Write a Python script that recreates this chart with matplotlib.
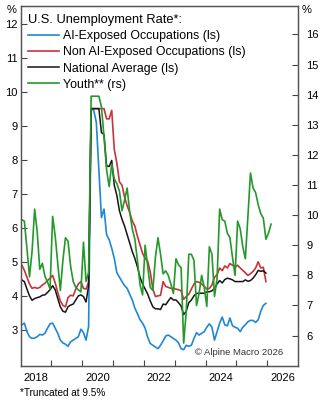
import matplotlib
matplotlib.use("Agg")
import matplotlib.pyplot as plt
import numpy as np

plt.rcParams['font.family'] = ['Liberation Sans', 'DejaVu Sans']

# monthly data, Jan 2018 onwards
start_year = 2018

ai_exposed = [
    3.15, 3.2, 2.95, 2.8, 2.75, 2.76, 2.8, 2.87, 2.85, 2.9, 3.05, 3.18,
    3.2, 3.05, 2.9, 2.7, 2.62, 2.58, 2.52, 2.65, 2.7, 2.75, 2.8, 3.02,
    2.92, 2.7, 3.1, 9.5, 9.45, 9.1, 7.7, 6.3, 6.55, 5.8, 5.65, 5.4,
    5.1, 4.68, 4.55, 4.42, 4.3, 4.22, 4.05, 3.88, 3.64, 3.48, 3.3, 3.2,
    3.05, 2.78, 2.6, 2.55, 2.5, 2.45, 2.55, 2.68, 2.82, 2.85, 2.8, 2.75,
    2.7, 2.62, 2.45, 2.42, 2.55, 2.52, 2.55, 2.75, 2.92, 2.85, 2.9, 2.95,
    3.08, 3.18, 3.08, 2.7, 2.95, 3.2, 3.38, 3.15, 3.12, 3.35, 3.12, 3.08,
    3.05, 2.95, 3.08, 3.15, 3.24, 3.28, 3.28, 3.22, 3.3, 3.55, 3.72, 3.78,
]

non_ai_exposed = [
    4.9, 4.75, 4.55, 4.35, 4.22, 4.25, 4.22, 4.25, 4.32, 4.37, 4.45, 4.52,
    4.6, 4.38, 4.1, 3.85, 3.72, 3.68, 3.95, 4.02, 4.0, 4.2, 4.35, 4.42,
    4.22, 4.2, 4.4, 9.5, 9.5, 9.5, 9.5, 9.5, 9.5, 9.2, 9.2, 9.45,
    8.3, 7.9, 7.35, 7.25, 6.9, 6.65, 6.45, 6.2, 6.05, 5.75, 5.5, 5.25,
    5.1, 5.02, 4.7, 4.2, 3.98, 4.0, 4.02, 4.42, 4.28, 4.25, 4.22, 4.22,
    4.2, 4.18, 4.15, 3.9, 3.98, 4.05, 4.2, 4.35, 4.42, 4.4, 4.35, 4.28,
    4.2, 4.22, 4.32, 4.55, 4.62, 4.82, 4.74, 4.88, 4.82, 4.95, 4.9, 4.85,
    4.9, 4.82, 4.75, 4.68, 4.6, 4.65, 4.72, 4.82, 5.0, 4.82, 4.84, 4.42,
]

national_avg = [
    4.47, 4.42, 4.2, 4.0, 3.87, 3.92, 3.95, 3.97, 4.02, 4.03, 4.1, 4.18,
    4.3, 4.18, 3.92, 3.68, 3.55, 3.52, 3.68, 3.73, 3.76, 3.88, 4.0, 4.03,
    3.98, 3.82, 4.3, 9.5, 9.5, 9.5, 9.5, 8.8, 8.74, 7.82, 7.8, 7.98,
    7.25, 6.95, 6.5, 6.25, 6.05, 5.8, 5.55, 5.3, 5.1, 4.85, 4.55, 4.35,
    4.2, 4.05, 3.85, 3.68, 3.62, 3.62, 3.6, 3.76, 3.74, 3.85, 3.95, 3.88,
    3.88, 3.8, 3.7, 3.45, 3.55, 3.8, 3.88, 4.0, 4.07, 4.08, 4.08, 4.08,
    4.12, 4.12, 4.15, 4.22, 4.35, 4.45, 4.38, 4.48, 4.52, 4.5, 4.47, 4.42,
    4.42, 4.42, 4.42, 4.47, 4.43, 4.45, 4.52, 4.62, 4.75, 4.72, 4.74, 4.67,
]

youth = [
    9.85, 9.8, 8.9, 7.95, 8.8, 10.2, 9.45, 8.2, 8.4, 7.97, 7.78, 7.55,
    9.96, 9.3, 8.4, 7.5, 8.5, 9.25, 9.13, 8.3, 7.8, 7.6, 7.52, 7.45,
    9.1, 7.8, 8.1, 13.95, 13.95, 13.95, 13.95, 13.6, 12.6, 11.5, 10.95, 11.7,
    11.2, 11.05, 10.8, 10.15, 10.5, 10.9, 10.1, 9.55, 9.2, 8.5, 7.7, 7.35,
    9.0, 8.3, 7.6, 7.5, 8.6, 9.25, 8.7, 8.05, 8.15, 8.0, 7.72, 7.4,
    8.55, 8.35, 8.25, 5.75, 6.8, 8.7, 8.7, 8.5, 7.0, 7.4, 8.0, 7.6,
    6.97, 8.95, 8.7, 7.3, 7.9, 10.2, 9.85, 9.8, 9.4, 9.25, 8.6, 8.0,
    9.8, 9.55, 8.95, 8.55, 9.95, 11.4, 10.9, 10.75, 10.35, 10.05, 9.9, 9.2,
    9.4, 9.7,
]

year_labels = ['2018', '2020', '2022', '2024', '2026']


def month_axis(n):
    return start_year + (np.arange(n) + 0.5) / 12


fig = plt.figure(figsize=(3.24, 4.0), dpi=100)
ax = fig.add_axes([0.0633, 0.0858, 0.8565, 0.898])
ax2 = ax.twinx()

blue = '#1f88d2'
red = '#c8333c'
black = '#151515'
green = '#23992a'

l1, = ax.plot(month_axis(len(ai_exposed)), ai_exposed, color=blue, lw=1.2,
              label='AI-Exposed Occupations (ls)')
l2, = ax.plot(month_axis(len(non_ai_exposed)), non_ai_exposed, color=red, lw=1.2,
              label='Non AI-Exposed Occupations (ls)')
l3, = ax.plot(month_axis(len(national_avg)), national_avg, color=black, lw=1.1,
              label='National Average (ls)')
l4, = ax2.plot(month_axis(len(youth)), youth, color=green, lw=1.2,
               label='Youth** (rs)')

ax.set_xlim(2018, 2027)
ax.set_ylim(1.95, 12.5)
ax2.set_ylim(5.0, 16.93)

ax.set_yticks(np.arange(3, 13))
ax2.set_yticks(np.arange(6, 17))
ax.set_xticks(np.arange(2019, 2027))
ax.set_xticklabels([])
ax.set_xticks([int(y) + 0.5 for y in year_labels], minor=True)
ax.set_xticklabels(year_labels, minor=True)

ax.tick_params(axis='x', which='major', direction='in', length=4, width=0.8,
               color='#444444')
ax.tick_params(axis='x', which='minor', length=0, labelsize=8, pad=5)
ax.tick_params(axis='y', direction='in', length=4, width=0.8, color='#444444',
               labelsize=8, pad=2)
ax2.tick_params(axis='y', direction='in', length=4, width=0.8, color='#444444',
                labelsize=8, pad=6)

for a in (ax, ax2):
    for s in a.spines.values():
        s.set_color('#555555')
        s.set_linewidth(0.9)

leg = ax2.legend(handles=[l1, l2, l3, l4], loc='upper left',
                 bbox_to_anchor=(0.0, 1.0), frameon=False, fontsize=8.9,
                 title='U.S. Unemployment Rate*:', title_fontsize=9.3,
                 alignment='left', handlelength=2.5, handletextpad=0.3,
                 labelspacing=0.34, borderaxespad=0.3, borderpad=0.3)

fig.text(12 / 324, 1 - 10 / 400, '%', fontsize=8, ha='center', va='center')
fig.text(307 / 324, 1 - 10 / 400, '%', fontsize=8, ha='center', va='center')
fig.text(20 / 324, 1 - 393 / 400, '*Truncated at 9.5%', fontsize=7.2,
         ha='left', va='center')
ax.text(0.947, 0.038, '\u00a9 Alpine Macro 2026', transform=ax.transAxes,
        fontsize=6.8, ha='right', va='center', color='#333333')

fig.savefig('out.png', dpi=100)
